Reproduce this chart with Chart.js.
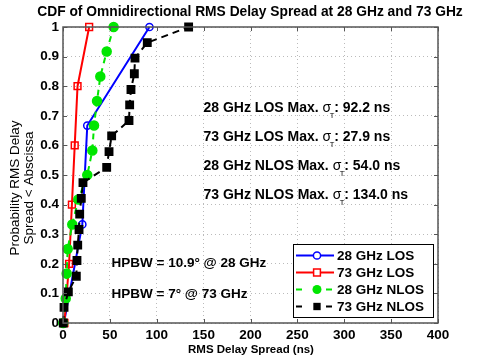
<!DOCTYPE html>
<html>
<head>
<meta charset="utf-8">
<script src="https://cdn.jsdelivr.net/npm/chart.js@4/dist/chart.umd.min.js"></script>
<style>
  html, body { margin: 0; padding: 0; background: #fff; }
  #wrap { width: 485px; height: 363px; }
</style>
</head>
<body>
<div id="wrap"><canvas id="cdf" width="485" height="363"></canvas></div>
<script>
const FONT = '"Liberation Sans", Arial, sans-serif';

// RMS delay spread (ns) and CDF values
let los28X  = [1, 20.6, 25.9, 92.2];
let los28Y  = [0, 0.333, 0.667, 1];
let los73X  = [1.5, 6.5, 9.5, 12.5, 15.5, 27.9];
let los73Y  = [0, 0.2, 0.4, 0.6, 0.8, 1];
let nlos28X = [0.3, 2.9, 3.9, 5.0, 9.9, 16.3, 25.9, 31.3, 33.1, 36.3, 39.8, 46.6, 54.0];
let nlos28Y = [0, 0.083, 0.167, 0.25, 0.333, 0.417, 0.5, 0.583, 0.667, 0.75, 0.833, 0.917, 1];
let nlos73X = [0.3, 1.1, 5.7, 14.2, 14.9, 15.7, 17.1, 17.8, 19.5, 21.3, 46.6, 49.1, 51.9, 70.4, 71.1, 72.5, 76.1, 76.8, 89.9, 134.0];
let nlos73Y = [0, 0.053, 0.105, 0.158, 0.211, 0.263, 0.316, 0.368, 0.421, 0.474, 0.526, 0.579, 0.632, 0.684, 0.737, 0.789, 0.842, 0.895, 0.947, 1];

let xTicks = [0, 50, 100, 150, 200, 250, 300, 350, 400];
let yTicks = [0, 0.1, 0.2, 0.3, 0.4, 0.5, 0.6, 0.7, 0.8, 0.9, 1];

let maxLines = [
  ["28 GHz LOS Max. ", ": 92.2 ns"],
  ["73 GHz LOS Max. ", ": 27.9 ns"],
  ["28 GHz NLOS Max. ", ": 54.0 ns"],
  ["73 GHz NLOS Max. ", ": 134.0 ns"]
];
let hpbwLines = ["HPBW = 10.9\u00b0 @ 28 GHz", "HPBW = 7\u00b0 @ 73 GHz"];

function pts(xs, ys){
  return xs.map((x,i)=>({x:x, y:ys[i]}));
}

let series = [
  {label:"28 GHz LOS",  data:pts(los28X,los28Y),   color:"#0000ff", style:"circle", r:3.6, fill:false, dash:[],    order:3},
  {label:"73 GHz LOS",  data:pts(los73X,los73Y),   color:"#ff0000", style:"rect",   r:4.8, fill:false, dash:[],    order:2},
  {label:"28 GHz NLOS", data:pts(nlos28X,nlos28Y), color:"#00e600", style:"circle", r:4.5, fill:true,  dash:[6,5], order:1},
  {label:"73 GHz NLOS", data:pts(nlos73X,nlos73Y), color:"#000000", style:"rect",   r:5.2, fill:true,  dash:[7,5], order:0}
];

/* Box, inward ticks, texts, legend */
const decor = {
  id:"decor",
  afterDatasetsDraw(chart){
    const ctx = chart.ctx;
    const a = chart.chartArea;
    const xs = chart.scales.x, ys = chart.scales.y;

    ctx.save();
    // axes box
    ctx.strokeStyle = "#555";
    ctx.lineWidth = 1.5;
    ctx.strokeRect(a.left, a.top, a.right-a.left, a.bottom-a.top);
    // inward ticks
    ctx.lineWidth = 1;
    ctx.beginPath();
    xTicks.forEach(v=>{
      let p = Math.round(xs.getPixelForValue(v))+0.5;
      ctx.moveTo(p, a.bottom); ctx.lineTo(p, a.bottom-4);
      ctx.moveTo(p, a.top);    ctx.lineTo(p, a.top+4);
    });
    yTicks.forEach(v=>{
      let p = Math.round(ys.getPixelForValue(v))+0.5;
      ctx.moveTo(a.left, p);  ctx.lineTo(a.left+4, p);
      ctx.moveTo(a.right, p); ctx.lineTo(a.right-4, p);
    });
    ctx.stroke();

    // title
    ctx.fillStyle = "#000";
    ctx.textBaseline = "middle";
    ctx.textAlign = "center";
    ctx.font = "bold 13.8px " + FONT;
    ctx.fillText("CDF of Omnidirectional RMS Delay Spread at 28 GHz and 73 GHz", 250, 12);

    // x title
    ctx.font = "bold 11.5px " + FONT;
    ctx.fillText("RMS Delay Spread (ns)", 251, 350);

    // y title
    ctx.save();
    ctx.translate(15, 188);
    ctx.rotate(-Math.PI/2);
    ctx.font = "13.5px " + FONT;
    ctx.fillText("Probability RMS Delay", 0, 0);
    ctx.fillText("Spread < Abscissa", 0, 14);
    ctx.restore();

    // max delay spread notes
    ctx.textAlign = "left";
    [108.5, 137.5, 166.5, 195.5].forEach((y,i)=>{
      let x = 203.5;
      ctx.font = "bold 14px " + FONT;
      ctx.fillText(maxLines[i][0], x, y);
      x += ctx.measureText(maxLines[i][0]).width;
      ctx.font = "14px " + FONT;
      ctx.fillText("\u03c3", x, y);
      let w = ctx.measureText("\u03c3").width;
      ctx.font = "7.5px " + FONT;
      ctx.fillText("T", x + w - 1.5, y + 7);
      x += w + 3;
      ctx.font = "bold 14px " + FONT;
      ctx.fillText(maxLines[i][1], x, y);
    });

    // beamwidth notes
    ctx.font = "bold 13.5px " + FONT;
    ctx.fillText(hpbwLines[0], 111.5, 263);
    ctx.fillText(hpbwLines[1], 111.5, 294);

    // legend
    const L = {x:293, y:244, w:140, h:73};
    ctx.fillStyle = "#fff";
    ctx.fillRect(L.x, L.y, L.w, L.h);
    ctx.strokeStyle = "#000";
    ctx.lineWidth = 1;
    ctx.strokeRect(L.x+0.5, L.y+0.5, L.w, L.h);
    [255.5, 272.5, 289.5, 306.5].forEach((y,i)=>{
      let s = series[i];
      ctx.strokeStyle = s.color;
      ctx.lineWidth = 2;
      ctx.setLineDash(s.dash.length ? [6,4] : []);
      ctx.beginPath();
      ctx.moveTo(296, y); ctx.lineTo(334, y);
      ctx.stroke();
      ctx.setLineDash([]);
      if(s.fill){
        ctx.fillStyle = "#fff";
        ctx.fillRect(306, y-6, 20, 12);
      }
      ctx.fillStyle = s.color;
      ctx.lineWidth = 1.5;
      ctx.beginPath();
      if(s.style === "circle") ctx.arc(317, y, s.r, 0, Math.PI*2);
      else { let h = s.r/Math.SQRT2; ctx.rect(317-h, y-h, 2*h, 2*h); }
      if(s.fill) ctx.fill();
      else { ctx.fillStyle = "#fff"; ctx.fill(); ctx.stroke(); }
      ctx.fillStyle = "#000";
      ctx.font = "bold 13.5px " + FONT;
      ctx.fillText(s.label, 337, y+0.5);
    });
    ctx.restore();
  }
};

new Chart(document.getElementById("cdf"), {
  type:"scatter",
  data:{
    datasets: series.map(s=>({
      label:s.label,
      data:s.data,
      showLine:true,
      borderColor:s.color,
      backgroundColor:s.fill ? s.color : "#ffffff",
      borderWidth:2,
      borderDash:s.dash,
      pointStyle:s.style,
      pointRadius:s.r,
      pointBorderWidth:1.5,
      pointBorderColor:s.color,
      pointBackgroundColor:s.fill ? s.color : "rgba(255,255,255,0)",
      order:s.order,
      clip:false
    }))
  },
  options:{
    responsive:false,
    animation:false,
    events:[],
    layout:{padding:{left:0, top:27, right:47, bottom:0}},
    plugins:{legend:{display:false}, tooltip:{enabled:false}, title:{display:false}},
    scales:{
      x:{
        type:"linear", min:0, max:400,
        afterFit(scale){ scale.height = 40; },
        afterBuildTicks(scale){ scale.ticks = xTicks.map(v=>({value:v})); },
        grid:{color:"#bbb", drawTicks:false},
        border:{display:false, dash:[1,3]},
        ticks:{padding:4, color:"#000", font:{family:FONT, size:13.5, weight:"bold"}, maxRotation:0}
      },
      y:{
        type:"linear", min:0, max:1,
        afterFit(scale){ scale.width = 63; },
        afterBuildTicks(scale){ scale.ticks = yTicks.map(v=>({value:v})); },
        grid:{color:"#bbb", drawTicks:false},
        border:{display:false, dash:[1,3]},
        ticks:{padding:4, color:"#000", font:{family:FONT, size:13.5, weight:"bold"},
               callback:v=>String(+v.toFixed(1))}
      }
    }
  },
  plugins:[decor]
});
</script>
</body>
</html>
